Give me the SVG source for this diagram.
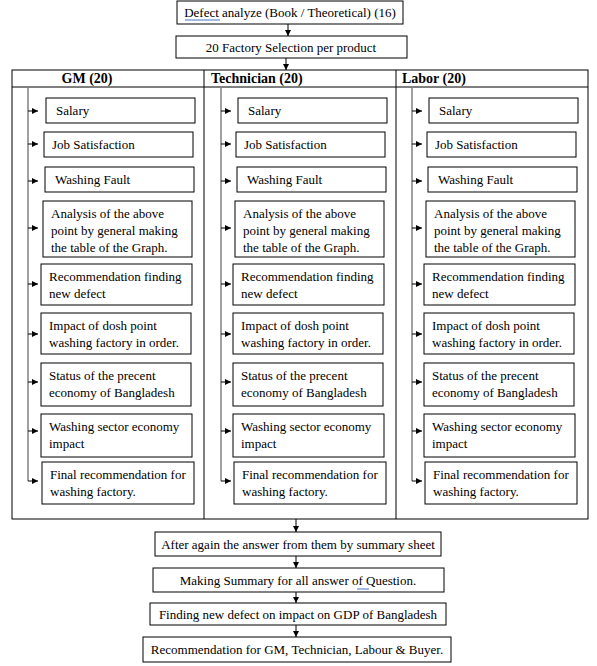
<svg xmlns="http://www.w3.org/2000/svg" width="597" height="666" viewBox="0 0 597 666">
<style>
.b{fill:#fff;stroke:#000;stroke-width:1}
.t{font-family:"Liberation Serif","Times New Roman",serif;font-size:13px;fill:#000}
.h{font-family:"Liberation Serif","Times New Roman",serif;font-size:14px;font-weight:bold;fill:#000}
.c{text-anchor:middle}
.a{stroke:#000;stroke-width:1;fill:none;marker-end:url(#ah)}
.v{stroke:#808080;stroke-width:1.5;fill:none}
.u{stroke:#4472c4;stroke-width:1}
</style>
<defs>
<marker id="ah" markerUnits="userSpaceOnUse" markerWidth="6" markerHeight="6" refX="6" refY="3" orient="auto">
<path d="M0,0 L6,3 L0,6 z" fill="#000"/>
</marker>
<g id="col">
<rect class="b" x="46" y="98" width="149" height="25"/>
<text class="t" x="56" y="115">Salary</text>
<rect class="b" x="44" y="132" width="149" height="25"/>
<text class="t" x="52" y="149">Job Satisfaction</text>
<rect class="b" x="45" y="167" width="149" height="25"/>
<text class="t" x="55" y="184">Washing Fault</text>
<rect class="b" x="43" y="201" width="149" height="56"/>
<text class="t" x="51" y="218">Analysis of the above</text>
<text class="t" x="51" y="235">point by general making</text>
<text class="t" x="51" y="252">the table of the Graph.</text>
<rect class="b" x="41" y="264" width="151" height="41"/>
<text class="t" x="49" y="281">Recommendation finding</text>
<text class="t" x="49" y="298">new defect</text>
<rect class="b" x="41" y="313" width="150" height="41"/>
<text class="t" x="49" y="330">Impact of dosh point</text>
<text class="t" x="49" y="347">washing factory in order.</text>
<rect class="b" x="41" y="363" width="150" height="43"/>
<text class="t" x="49" y="380">Status of the precent</text>
<text class="t" x="49" y="397">economy of Bangladesh</text>
<rect class="b" x="41" y="414" width="151" height="43"/>
<text class="t" x="49" y="431">Washing sector economy</text>
<text class="t" x="49" y="448">impact</text>
<rect class="b" x="42" y="462" width="152" height="42"/>
<text class="t" x="50" y="479">Final recommendation for</text>
<text class="t" x="50" y="496">washing factory.</text>
</g>
<g id="colc">
<path class="v" d="M28,87 V481"/>
<path class="a" d="M28,111 H38"/>
<path class="a" d="M28,144 H38"/>
<path class="a" d="M28,181 H38"/>
<path class="a" d="M28,228 H38"/>
<path class="a" d="M28,284 H38"/>
<path class="a" d="M28,334 H38"/>
<path class="a" d="M28,382 H38"/>
<path class="a" d="M28,431 H38"/>
<path class="a" d="M28,481 H38"/>
</g>
</defs>
<rect width="597" height="666" fill="#fff"/>
<g id="top1">
<rect class="b" x="177" y="1" width="226" height="23"/>
<text class="t c" x="290" y="17">Defect analyze (Book / Theoretical) (16)</text>
<line class="u" x1="185" y1="20" x2="220" y2="20"/>
</g>
<g id="top2">
<rect class="b" x="176" y="36" width="231" height="22"/>
<text class="t c" x="291" y="52">20 Factory Selection per product</text>
</g>
<g id="table">
<rect class="b" x="12" y="70" width="576" height="449"/>
<line stroke="#000" x1="12" y1="87" x2="588" y2="87"/>
<line stroke="#000" x1="204" y1="70" x2="204" y2="519"/>
<line stroke="#000" x1="396" y1="70" x2="396" y2="519"/>
<text class="h c" x="87" y="83">GM (20)</text>
<text class="h" x="211" y="83">Technician (20)</text>
<text class="h" x="402" y="83">Labor (20)</text>
</g>
<g id="gm"><use href="#col"/></g>
<g id="technician"><use href="#col" transform="translate(192,0)"/></g>
<g id="labor"><use href="#col" transform="translate(383,0)"/></g>
<g id="bottom1">
<rect class="b" x="155" y="532" width="286" height="24"/>
<text class="t c" x="298" y="549">After again the answer from them by summary sheet</text>
</g>
<g id="bottom2">
<rect class="b" x="153" y="568" width="291" height="24"/>
<text class="t c" x="298" y="585">Making Summary for all answer of Question.</text>
<line class="u" x1="357" y1="589" x2="369" y2="589"/>
</g>
<g id="bottom3">
<rect class="b" x="150" y="603" width="296" height="22"/>
<text class="t c" x="298" y="619">Finding new defect on impact on GDP of Bangladesh</text>
</g>
<g id="bottom4">
<rect class="b" x="143" y="637" width="308" height="25"/>
<text class="t c" x="297" y="654">Recommendation for GM, Technician, Labour &amp; Buyer.</text>
</g>
<g id="connectors">
<path class="a" d="M288,24 V36"/>
<path class="a" d="M286,58 V70"/>
<use href="#colc"/>
<use href="#colc" transform="translate(193,0)"/>
<use href="#colc" transform="translate(384,0)"/>
<path class="a" d="M296,519 V532"/>
<path class="a" d="M296,556 V568"/>
<path class="a" d="M296,592 V603"/>
<path class="a" d="M296,625 V637"/>
</g>
</svg>
